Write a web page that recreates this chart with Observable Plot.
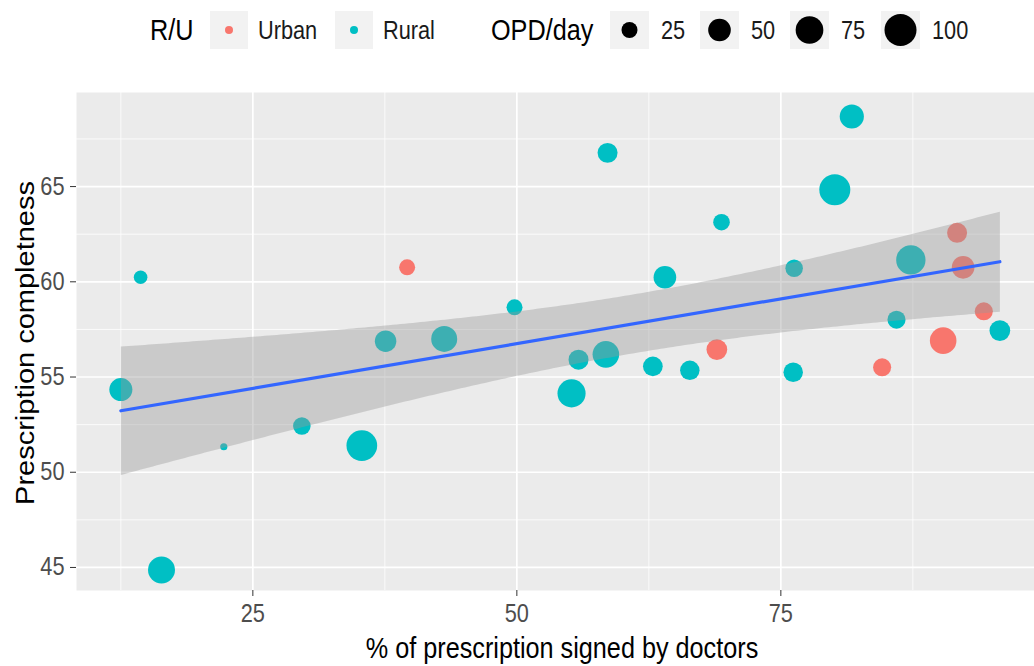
<!DOCTYPE html>
<html><head><meta charset="utf-8">
<script src="https://cdn.jsdelivr.net/npm/d3@7"></script>
<script src="https://cdn.jsdelivr.net/npm/@observablehq/plot@0.6"></script>
<style>
body{margin:0;background:#fff;}
#chart svg{display:block}
</style></head><body>
<div id="chart"></div>
<script>
// ---- data ----
const pctSigned = [12.5, 14.37, 16.35, 22.25, 29.64, 35.32, 37.57, 39.61, 43.12, 49.78, 55.18, 55.84, 58.43, 58.59, 62.88, 64.02, 66.38, 68.94, 69.38, 76.26, 76.17, 80.11, 81.72, 84.59, 85.95, 87.31, 90.37, 91.69, 92.26, 94.22, 95.74];
const completeness = [54.34, 60.24, 44.87, 51.34, 52.43, 51.40, 56.88, 60.76, 57.0, 58.66, 54.14, 55.91, 56.19, 66.77, 55.56, 60.24, 55.35, 56.44, 63.13, 60.71, 55.25, 64.83, 68.68, 55.51, 58.01, 61.15, 56.91, 62.57, 60.76, 58.45, 57.44];
const opdPerDay = [52, 18, 71, 5, 30, 92, 45, 25, 66, 25, 77, 39, 69, 39, 38, 50, 37, 42, 27, 30, 37, 94, 57, 32, 32, 84, 69, 39, 50, 32, 42];
const ruralUrban = ["Rural","Rural","Rural","Rural","Rural","Rural","Rural","Urban","Rural","Rural","Rural","Rural","Rural","Rural","Rural","Rural","Rural","Urban","Rural","Rural","Rural","Rural","Rural","Urban","Rural","Rural","Urban","Urban","Urban","Urban","Rural"];
const areaCategories = ["Urban", "Rural"];
const areaColors = ["#F8766D", "#00BFC4"];
const sizeBreaks = [25, 50, 75, 100];
const xTicks = [25, 50, 75];
const xMinor = [12.5, 37.5, 62.5, 87.5];
const yTicks = [45, 50, 55, 60, 65];
const yMinor = [47.5, 52.5, 57.5, 62.5, 67.5];
const xTitle = "% of prescription signed by doctors";
const yTitle = "Prescription completness";
const colorTitle = "R/U";
const sizeTitle = "OPD/day";

const FONT = '"Liberation Sans",Arial,sans-serif';
const SX = 0.87; // horizontal squeeze of the reference's text
const data = pctSigned.map((x, i) => ({x, y: completeness[i], opd: opdPerDay[i], area: ruralUrban[i]}));

const plot = Plot.plot({
  width: 1034, height: 608,
  marginTop: 34, marginBottom: 76, marginLeft: 76, marginRight: 0,
  style: {fontFamily: FONT, background: "#fff", overflow: "visible"},
  x: {domain: [8.3, 99.02]},
  y: {domain: [43.79, 69.94]},
  r: {type: "sqrt", domain: [0, 100], range: [0, 16]},
  color: {domain: areaCategories, range: areaColors},
  marks: [
    Plot.frame({fill: "#EBEBEB", stroke: null}),
    Plot.gridX(xMinor, {stroke: "#fff", strokeOpacity: 1, strokeWidth: 0.8}),
    Plot.gridY(yMinor, {stroke: "#fff", strokeOpacity: 1, strokeWidth: 0.8}),
    Plot.gridX(xTicks, {stroke: "#fff", strokeOpacity: 1, strokeWidth: 1.7}),
    Plot.gridY(yTicks, {stroke: "#fff", strokeOpacity: 1, strokeWidth: 1.7}),
    Plot.dot(data, {x: "x", y: "y", r: "opd", fill: "area", stroke: null}),
    Plot.linearRegressionY(data, {x: "x", y: "y", stroke: "#3366FF", strokeWidth: 3.2, fill: "#999999", fillOpacity: 0.4}),
    Plot.axisX(xTicks, {tickSize: 6, tickPadding: 8, fontSize: 25, stroke: "#333", fill: "#4D4D4D", label: null}),
    Plot.axisY(yTicks, {tickSize: 6, tickPadding: 6, fontSize: 25, stroke: "#333", fill: "#4D4D4D", label: null})
  ]
});

// squeeze Plot's own texts horizontally, like the reference
d3.select(plot).selectAll("text").each(function () {
  const t = this.getAttribute("transform") || "";
  const xa = this.getAttribute("x");
  if (xa !== null && isFinite(+xa)) this.setAttribute("x", +xa / SX);
  this.setAttribute("transform", `${t} scale(${SX},1)`);
});

// axis titles (plot coordinates: svg starts 58px below page top)
const svg = d3.select(plot);
svg.append("text").attr("transform", `translate(562,${648 - 58}) scale(${SX},1)`)
  .attr("text-anchor", "middle").attr("dy", "0.36em").attr("font-size", 29).attr("fill", "#000")
  .attr("font-family", FONT).text(xTitle);
svg.append("text").attr("transform", `translate(25,${343 - 58}) rotate(-90) scale(1,${SX})`)
  .attr("text-anchor", "middle").attr("dy", "0.36em").attr("font-size", 29).attr("fill", "#000")
  .attr("font-family", FONT).text(yTitle);

// ---- legend (above the plot) ----
const rScale = Plot.scale({r: plot.scale("r")});
const cScale = Plot.scale({color: plot.scale("color")});
const leg = d3.create("svg").attr("width", 1034).attr("height", 58)
  .style("display", "block").style("font-family", FONT);
const cy = 30;
const label = (x, txt, size, fill) => leg.append("text")
  .attr("transform", `translate(${x},${cy}) scale(${SX},1)`)
  .attr("dy", "0.36em").attr("font-size", size).attr("fill", fill).text(txt);
label(150, colorTitle, 29, "#000");
const colorKeyX = [210, 335];
areaCategories.forEach((c, i) => {
  const x0 = colorKeyX[i];
  leg.append("rect").attr("x", x0).attr("y", cy - 19).attr("width", 38).attr("height", 38).attr("fill", "#F2F2F2");
  leg.append("circle").attr("cx", x0 + 19).attr("cy", cy).attr("r", 4).attr("fill", cScale.apply(c));
  label(x0 + 48, c, 25, "#1A1A1A");
});
label(491, sizeTitle, 29, "#000");
const sizeKeyX = [610, 700, 790, 881];
sizeBreaks.forEach((v, i) => {
  const x0 = sizeKeyX[i];
  leg.append("rect").attr("x", x0).attr("y", cy - 19).attr("width", 39).attr("height", 38).attr("fill", "#F2F2F2");
  leg.append("circle").attr("cx", x0 + 19.5).attr("cy", cy).attr("r", rScale.apply(v)).attr("fill", "#000");
  label(x0 + 51, String(v), 25, "#1A1A1A");
});

const chart = document.getElementById("chart");
chart.appendChild(leg.node());
chart.appendChild(plot);
</script>
</body></html>
